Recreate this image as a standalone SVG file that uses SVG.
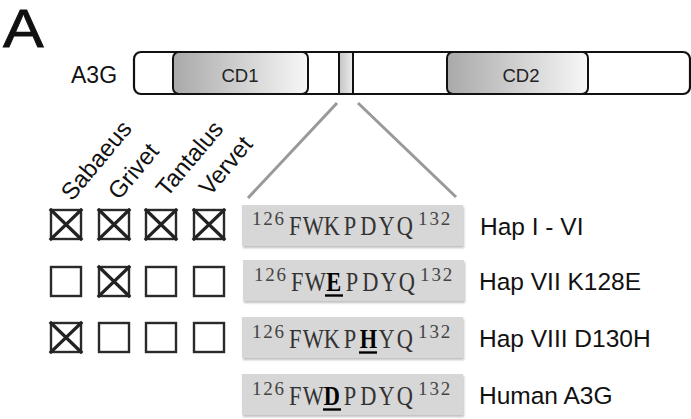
<svg xmlns="http://www.w3.org/2000/svg" width="691" height="419" viewBox="0 0 691 419">
  <defs>
    <linearGradient id="cdGrad" x1="0" y1="0" x2="1" y2="0">
      <stop offset="0" stop-color="#a9a9a9"/>
      <stop offset="1" stop-color="#f7f7f7"/>
    </linearGradient>
    <linearGradient id="smallGrad" x1="0" y1="0" x2="1" y2="0">
      <stop offset="0" stop-color="#c4c4c4"/>
      <stop offset="1" stop-color="#ececec"/>
    </linearGradient>
    <filter id="shadow" x="-5%" y="-10%" width="110%" height="130%">
      <feGaussianBlur in="SourceAlpha" stdDeviation="1"/>
      <feOffset dx="1" dy="1.5" result="b"/>
      <feComponentTransfer><feFuncA type="linear" slope="0.25"/></feComponentTransfer>
      <feMerge><feMergeNode/><feMergeNode in="SourceGraphic"/></feMerge>
    </filter>
  </defs>
  <style>
    .sans { font-family: "Liberation Sans", Arial, sans-serif; fill: #111; }
    .lbl { font-size: 24.5px; }
    .sp { font-size: 24px; }
    .cd { font-size: 18.5px; text-anchor: middle; fill: #222; }
    .bar { fill: #fff; stroke: #111; stroke-width: 2.2; }
    .dom { fill: url(#cdGrad); stroke: #111; stroke-width: 2; }
    .chk { fill: #fff; stroke: #2a2a2a; stroke-width: 2.4; }
    .x { stroke: #222; stroke-width: 3.3; stroke-linecap: square; }
    .seqbox { fill: #d7d7d7; filter: url(#shadow); }
    .seq { font-family: "Liberation Serif", "Times New Roman", serif; font-size: 28px; fill: #333; text-anchor: middle; }
    .sup { font-family: "Liberation Serif", "Times New Roman", serif; font-size: 19px; fill: #444; text-anchor: middle; }
    .mut { font-weight: bold; fill: #000; }
    .ul { stroke: #000; stroke-width: 2.4; }
    .zoom { stroke: #999; stroke-width: 3; fill: none; }
  </style>

  <text class="sans" transform="translate(3,47) scale(1.15,1)" font-size="53" stroke="#111" stroke-width="0.8">A</text>

  <g id="a3g">
    <text class="sans" x="71" y="83" font-size="23">A3G</text>
    <rect class="bar" x="134" y="52" width="556" height="42" rx="7"/>
    <rect class="dom" x="173" y="52" width="135" height="42" rx="6"/>
    <text class="sans cd" x="240" y="82">CD1</text>
    <rect x="339" y="52" width="14" height="42" fill="url(#smallGrad)" stroke="#111" stroke-width="2"/>
    <rect class="dom" x="447" y="52" width="141" height="42" rx="6"/>
    <text class="sans cd" x="521" y="82">CD2</text>
  </g>

  <g id="connectors">
    <line class="zoom" x1="337" y1="103" x2="248" y2="198"/>
    <line class="zoom" x1="358" y1="103" x2="456" y2="197"/>
  </g>

  <g id="species-labels" class="sans sp">
    <text transform="translate(72,202) rotate(-50)">Sabaeus</text>
    <text transform="translate(119,201) rotate(-50)">Grivet</text>
    <text transform="translate(167,198) rotate(-50)">Tantalus</text>
    <text transform="translate(210,197) rotate(-50)">Vervet</text>
  </g>

  <g id="checkboxes">
    <g id="row1-boxes">
      <rect class="chk" x="51" y="210" width="30" height="29"/>
      <path class="x" d="M51 210 L81 239 M81 210 L51 239"/>
      <rect class="chk" x="99" y="210" width="30" height="29"/>
      <path class="x" d="M99 210 L129 239 M129 210 L99 239"/>
      <rect class="chk" x="146" y="210" width="30" height="29"/>
      <path class="x" d="M146 210 L176 239 M176 210 L146 239"/>
      <rect class="chk" x="194" y="210" width="30" height="29"/>
      <path class="x" d="M194 210 L224 239 M224 210 L194 239"/>
    </g>
    <g id="row2-boxes">
      <rect class="chk" x="51" y="267" width="30" height="29"/>
      <rect class="chk" x="99" y="267" width="30" height="29"/>
      <path class="x" d="M99 267 L129 296 M129 267 L99 296"/>
      <rect class="chk" x="146" y="267" width="30" height="29"/>
      <rect class="chk" x="194" y="267" width="30" height="29"/>
    </g>
    <g id="row3-boxes">
      <rect class="chk" x="51" y="323" width="30" height="29"/>
      <path class="x" d="M51 323 L81 352 M81 323 L51 352"/>
      <rect class="chk" x="99" y="323" width="30" height="29"/>
      <rect class="chk" x="146" y="323" width="30" height="29"/>
      <rect class="chk" x="194" y="323" width="30" height="29"/>
    </g>
  </g>

  <g id="seq1">
    <rect class="seqbox" x="242" y="205" width="221" height="41"/>
    <text class="sup" x="256.7 268 279.3" y="225">126</text>
    <text class="seq" transform="translate(286,235) scale(0.8,1)" x="11.44 34.31 57.19 80.06 102.94 125.81 148.69" y="0">FWKPDYQ</text>
    <text class="sup" x="422.8 434.2 445.5" y="225">132</text>
    <text class="sans lbl" x="480" y="235">Hap I - VI</text>
  </g>
  <g id="seq2">
    <rect class="seqbox" x="243" y="260" width="221" height="41"/>
    <text class="sup" x="258.7 270 281.3" y="281">126</text>
    <text class="seq" transform="translate(288,291) scale(0.8,1)" x="11.44 34.31 57.19 80.06 102.94 125.81 148.69" y="0">FW<tspan class="mut">E</tspan>PDYQ</text>
    <line class="ul" x1="325" y1="295.5" x2="343" y2="295.5"/>
    <text class="sup" x="424.8 436.2 447.5" y="281">132</text>
    <text class="sans lbl" x="479" y="290">Hap VII K128E</text>
  </g>
  <g id="seq3">
    <rect class="seqbox" x="242" y="317" width="221" height="41"/>
    <text class="sup" x="256.7 268 279.3" y="338">126</text>
    <text class="seq" transform="translate(286,348) scale(0.8,1)" x="11.44 34.31 57.19 80.06 102.94 125.81 148.69" y="0">FWKP<tspan class="mut">H</tspan>YQ</text>
    <line class="ul" x1="359" y1="352.5" x2="377" y2="352.5"/>
    <text class="sup" x="422.8 434.2 445.5" y="338">132</text>
    <text class="sans lbl" x="479" y="347">Hap VIII D130H</text>
  </g>
  <g id="seq4">
    <rect class="seqbox" x="242" y="374" width="221" height="41"/>
    <text class="sup" x="256.7 268 279.3" y="395">126</text>
    <text class="seq" transform="translate(286,405) scale(0.8,1)" x="11.44 34.31 57.19 80.06 102.94 125.81 148.69" y="0">FW<tspan class="mut">D</tspan>PDYQ</text>
    <line class="ul" x1="323" y1="409.5" x2="341" y2="409.5"/>
    <text class="sup" x="422.8 434.2 445.5" y="395">132</text>
    <text class="sans lbl" x="479" y="404">Human A3G</text>
  </g>
</svg>
